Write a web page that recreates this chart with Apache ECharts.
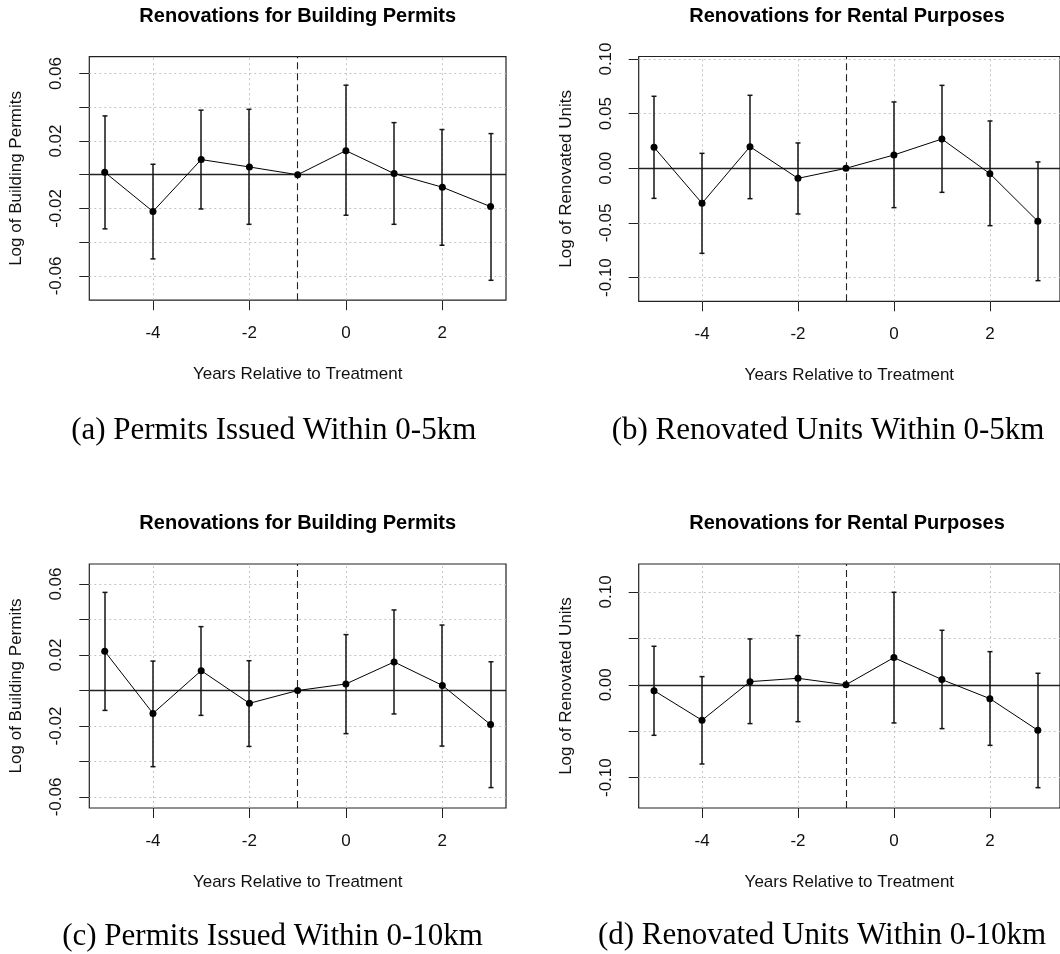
<!DOCTYPE html>
<html>
<head>
<meta charset="utf-8">
<script src="https://cdn.jsdelivr.net/npm/echarts@6/dist/echarts.min.js"></script>
<style>
html,body{margin:0;padding:0;background:#fff;overflow:hidden;}
#chart{width:1060px;height:954px;}
</style>
</head>
<body>
<div id="chart"></div>
<script>
// ---- data ----
const years = [-5, -4, -3, -2, -1, 0, 1, 2, 3];

const estA = [0.0015, -0.0218, 0.0090, 0.0046, 0, 0.0143, 0.0007, -0.0074, -0.0189];
const hiA  = [0.0349, 0.0062, 0.0383, 0.0388, null, 0.0531, 0.0309, 0.0268, 0.0244];
const loA  = [-0.0321, -0.0499, -0.0203, -0.0294, null, -0.0240, -0.0294, -0.0418, -0.0626];

const estB = [0.0192, -0.0320, 0.0198, -0.0092, 0, 0.0122, 0.0268, -0.0049, -0.0485];
const hiB  = [0.0659, 0.0137, 0.0668, 0.0232, null, 0.0607, 0.0759, 0.0433, 0.0058];
const loB  = [-0.0275, -0.0778, -0.0278, -0.0418, null, -0.0360, -0.0220, -0.0525, -0.1028];

const estC = [0.0221, -0.0129, 0.0112, -0.0072, 0, 0.0037, 0.0161, 0.0029, -0.0192];
const hiC  = [0.0553, 0.0166, 0.0360, 0.0168, null, 0.0315, 0.0454, 0.0369, 0.0162];
const loC  = [-0.0112, -0.0429, -0.0140, -0.0315, null, -0.0243, -0.0132, -0.0313, -0.0547];

const estD = [-0.0063, -0.0382, 0.0034, 0.0070, 0, 0.0293, 0.0056, -0.0149, -0.0490];
const hiD  = [0.0415, 0.0088, 0.0494, 0.0530, null, 0.0996, 0.0587, 0.0357, 0.0124];
const loD  = [-0.0544, -0.0853, -0.0418, -0.0397, null, -0.0411, -0.0472, -0.0652, -0.1108];

const xTicks = [-4, -2, 0, 2];
const treatYear = -1;
const yTicksPermits = [-0.06, -0.04, -0.02, 0, 0.02, 0.04, 0.06];
const yLabelsPermits = [-0.06, -0.02, 0.02, 0.06];
const yTicksUnits = [-0.10, -0.05, 0, 0.05, 0.10];
const yLabelsUnitsB = [-0.10, -0.05, 0, 0.05, 0.10];
const yLabelsUnitsD = [-0.10, 0, 0.10];

const titles = ['Renovations for Building Permits', 'Renovations for Rental Purposes',
                'Renovations for Building Permits', 'Renovations for Rental Purposes'];
const yNames = ['Log of Building Permits', 'Log of Renovated Units',
                'Log of Building Permits', 'Log of Renovated Units'];
const xName = 'Years Relative to Treatment';
const captions = ['(a) Permits Issued Within 0-5km', '(b) Renovated Units Within 0-5km',
                  '(c) Permits Issued Within 0-10km', '(d) Renovated Units Within 0-10km'];

// ---- layout ----
const SANS = "'Liberation Sans', Arial, Helvetica, sans-serif";
const SERIF = "'Liberation Serif', 'Times New Roman', serif";
const panels = [
  {est: estA, lo: loA, hi: hiA, left: 89.3, top: 56.7, width: 416.7, height: 243.5,
   xmin: -5.32, xmax: 3.32, ymin: -0.0744, ymax: 0.0700, yTicks: yTicksPermits, yLabels: yLabelsPermits,
   titleX: 297.7, titleY: 6, capX: 273.7, capY: 431},
  {est: estB, lo: loB, hi: hiB, left: 638.7, top: 56.5, width: 423.3, height: 244.8,
   xmin: -5.32, xmax: 3.462, ymin: -0.1217, ymax: 0.1023, yTicks: yTicksUnits, yLabels: yLabelsUnitsB,
   titleX: 847, titleY: 6, capX: 828, capY: 431},
  {est: estC, lo: loC, hi: hiC, left: 89.3, top: 564, width: 416.7, height: 244,
   xmin: -5.32, xmax: 3.32, ymin: -0.0662, ymax: 0.0713, yTicks: yTicksPermits, yLabels: yLabelsPermits,
   titleX: 297.7, titleY: 513, capX: 272.5, capY: 937},
  {est: estD, lo: loD, hi: hiD, left: 638.7, top: 564, width: 423.3, height: 244,
   xmin: -5.32, xmax: 3.462, ymin: -0.1327, ymax: 0.1301, yTicks: yTicksUnits, yLabels: yLabelsUnitsD,
   titleX: 847, titleY: 513, capX: 822, capY: 936}
];

const grid = [], xAxis = [], yAxis = [], series = [], title = [], graphic = [];

function errRender(params, api) {
  const x = api.value(0), lo = api.value(1), hi = api.value(2);
  const p1 = api.coord([x, hi]);
  const p2 = api.coord([x, lo]);
  const cx = Math.round(p1[0]);          // pixel-snap the bar for a crisp solid stroke
  const hw = 2.5;
  const st = {stroke: '#151515', lineWidth: 1.5};
  return {
    type: 'group',
    children: [
      {type: 'line', shape: {x1: cx, y1: p1[1], x2: cx, y2: p2[1]}, style: st},
      {type: 'line', shape: {x1: cx - hw, y1: p1[1], x2: cx + hw, y2: p1[1]}, style: st},
      {type: 'line', shape: {x1: cx - hw, y1: p2[1], x2: cx + hw, y2: p2[1]}, style: st}
    ]
  };
}

panels.forEach((p, i) => {
  grid.push({left: p.left, top: p.top, width: p.width, height: p.height, show: true,
             borderColor: '#222', borderWidth: 1.2, backgroundColor: 'transparent'});
  xAxis.push({
    gridIndex: i, type: 'value', min: p.xmin, max: p.xmax, position: 'bottom',
    axisLine: {show: false, onZero: false},
    axisTick: {show: true, length: 10, customValues: xTicks, lineStyle: {color: '#222', width: 1}},
    axisLabel: {customValues: xTicks, margin: 25, fontSize: 17, color: '#111', fontFamily: SANS,
                formatter: v => String(v)},
    splitLine: {show: false},
    name: xName, nameLocation: 'middle', nameGap: 66,
    nameTextStyle: {fontSize: 17, color: '#111', fontFamily: SANS}
  });
  yAxis.push({
    gridIndex: i, type: 'value', min: p.ymin, max: p.ymax, position: 'left',
    axisLine: {show: false, onZero: false},
    axisTick: {show: true, length: 10, customValues: p.yTicks, lineStyle: {color: '#222', width: 1}},
    axisLabel: {customValues: p.yLabels, rotate: 90, margin: 24, fontSize: 17, color: '#111',
                fontFamily: SANS, formatter: v => v.toFixed(2)},
    splitLine: {show: false},
    name: yNames[i], nameLocation: 'middle', nameRotate: 90, nameGap: 64,
    nameTextStyle: {fontSize: 17, color: '#111', fontFamily: SANS}
  });

  const gridStyle = {color: '#c4c4c4', width: 1, type: [2, 3]};
  const mlData = [];
  p.yTicks.forEach(v => mlData.push({yAxis: v, lineStyle: gridStyle}));
  xTicks.forEach(v => mlData.push({xAxis: v, lineStyle: gridStyle}));
  mlData.push({yAxis: 0, lineStyle: {color: '#222', width: 1.3, type: 'solid'}});
  mlData.push({xAxis: treatYear, lineStyle: {color: '#222', width: 1.1, type: [7, 4]}});

  // reference/grid lines
  series.push({
    type: 'line', xAxisIndex: i, yAxisIndex: i, z: 1, silent: true,
    data: years.map((y, k) => [y, p.est[k]]),
    symbol: 'none', lineStyle: {opacity: 0}, itemStyle: {opacity: 0},
    markLine: {z: 1, silent: true, symbol: 'none', label: {show: false}, animation: false, data: mlData}
  });
  // error bars
  const errData = [];
  years.forEach((y, k) => { if (p.lo[k] != null && p.hi[k] != null) errData.push([y, p.lo[k], p.hi[k]]); });
  series.push({
    type: 'custom', xAxisIndex: i, yAxisIndex: i, z: 6, silent: true,
    renderItem: errRender, encode: {x: 0, y: [1, 2]}, data: errData
  });
  // point estimates
  series.push({
    type: 'line', xAxisIndex: i, yAxisIndex: i, z: 7, silent: true,
    data: years.map((y, k) => [y, p.est[k]]),
    symbol: 'circle', symbolSize: 7, showSymbol: true,
    itemStyle: {color: '#000'}, lineStyle: {color: '#000', width: 1}
  });

  title.push({text: titles[i], left: p.titleX, top: p.titleY, textAlign: 'center', padding: 0,
              textStyle: {fontSize: 20, fontWeight: 'bold', color: '#000', fontFamily: SANS}});
  graphic.push({type: 'text', x: p.capX, y: p.capY, silent: true,
                style: {text: captions[i], fontSize: 31, fontFamily: SERIF, fill: '#000',
                        align: 'center', verticalAlign: 'middle'}});
});

const chart = echarts.init(document.getElementById('chart'), null, {renderer: 'canvas'});
chart.setOption({
  animation: false,
  backgroundColor: '#fff',
  title, grid, xAxis, yAxis, series, graphic
});
</script>
</body>
</html>
